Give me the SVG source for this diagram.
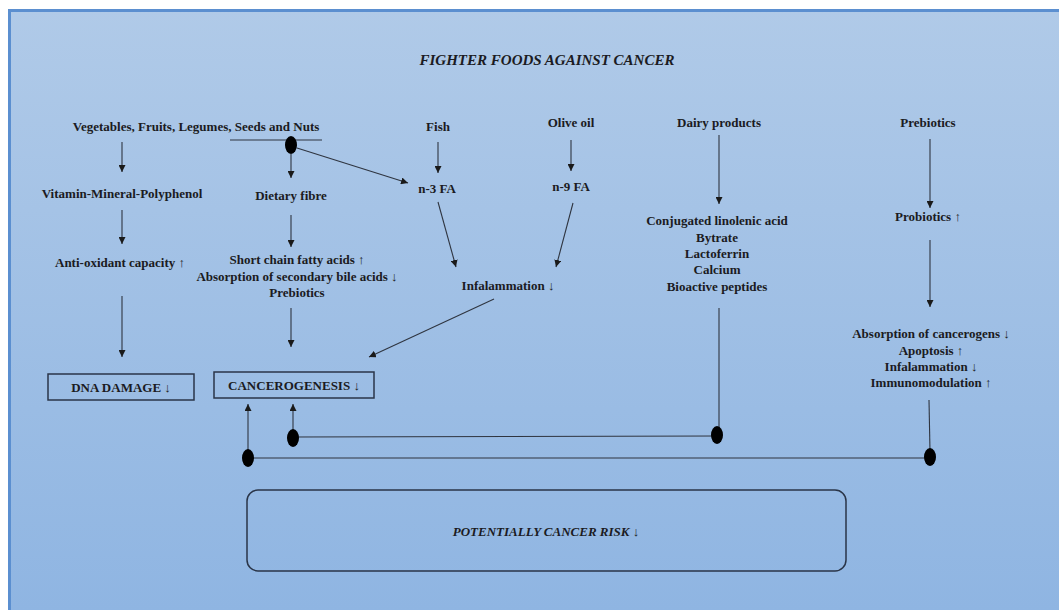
<svg xmlns="http://www.w3.org/2000/svg" width="1059" height="610" viewBox="0 0 1059 610">
<defs>
<linearGradient id="bg" x1="0" y1="0" x2="0" y2="1">
<stop offset="0" stop-color="#b0cae8"/>
<stop offset="1" stop-color="#8fb5e2"/>
</linearGradient>
<marker id="ah" viewBox="0 0 8 8" refX="8" refY="4" markerWidth="7" markerHeight="7" markerUnits="userSpaceOnUse" orient="auto">
<path d="M0,0 L8,4 L0,8 z" fill="#1a1a1a"/>
</marker>
<style>
.t{font-family:"Liberation Serif","Times New Roman",serif;font-weight:bold;font-size:13px;fill:#1b1b22;text-anchor:middle}
.ti{font-family:"Liberation Serif","Times New Roman",serif;font-weight:bold;font-style:italic;font-size:15px;fill:#1b1b22;text-anchor:middle}
.c{stroke:#2f3540;stroke-width:1.1;fill:none}
.a{stroke:#2f3540;stroke-width:1.1;fill:none;marker-end:url(#ah)}
.box{fill:none;stroke:#2a3548;stroke-width:1.5}
.dot{fill:#000}
</style>
</defs>
<rect x="0" y="0" width="1059" height="610" fill="#ffffff"/>
<rect x="8" y="9" width="1051" height="601" fill="url(#bg)"/>
<path d="M9.5,610 V10.5 H1059" fill="none" stroke="#5b8fd0" stroke-width="3"/>

<text class="ti" x="547" y="65">FIGHTER FOODS AGAINST CANCER</text>

<g id="connectors">
<line class="c" x1="230" y1="140" x2="322" y2="140"/>
<line class="a" x1="122" y1="142" x2="122" y2="172"/>
<line class="a" x1="122" y1="210" x2="122" y2="244"/>
<line class="a" x1="122" y1="296" x2="122" y2="357"/>
<line class="a" x1="291" y1="154" x2="291" y2="178"/>
<line class="a" x1="297" y1="148" x2="408" y2="183"/>
<line class="a" x1="291" y1="215" x2="291" y2="247"/>
<line class="a" x1="291" y1="308" x2="291" y2="347"/>
<line class="a" x1="438" y1="142" x2="438" y2="173"/>
<line class="a" x1="438" y1="202" x2="456" y2="267"/>
<line class="a" x1="571" y1="140" x2="571" y2="171"/>
<line class="a" x1="573" y1="203" x2="556" y2="267"/>
<line class="a" x1="494" y1="299" x2="369" y2="357"/>
<line class="a" x1="719" y1="135" x2="719" y2="204"/>
<line class="a" x1="930" y1="139" x2="930" y2="208"/>
<line class="a" x1="930" y1="240" x2="930" y2="307"/>
<polyline class="c" points="719,308 719,430"/>
<polyline class="c" points="717,436 293,437"/>
<line class="a" x1="293" y1="430" x2="293" y2="404"/>
<polyline class="c" points="929,400 930,452"/>
<polyline class="c" points="930,458 248,458"/>
<line class="a" x1="248" y1="450" x2="248" y2="404"/>
<ellipse class="dot" cx="291" cy="145" rx="6" ry="9"/>
<ellipse class="dot" cx="717" cy="435" rx="6" ry="9"/>
<ellipse class="dot" cx="293" cy="438" rx="6" ry="9"/>
<ellipse class="dot" cx="930" cy="457" rx="6" ry="9"/>
<ellipse class="dot" cx="248" cy="458" rx="6" ry="9"/>
</g>

<g id="veg"><text class="t" x="196" y="131">Vegetables, Fruits, Legumes, Seeds and Nuts</text></g>
<g id="vit"><text class="t" x="122" y="198">Vitamin-Mineral-Polyphenol</text></g>
<g id="antiox"><text class="t" x="120" y="267">Anti-oxidant capacity ↑</text></g>
<g id="dna"><rect class="box" x="48" y="374" width="146" height="26"/><text class="t" x="121" y="392">DNA DAMAGE ↓</text></g>
<g id="fibre"><text class="t" x="291" y="200">Dietary fibre</text></g>
<g id="scfa">
<text class="t" x="297" y="264">Short chain fatty acids ↑</text>
<text class="t" x="297" y="281">Absorption of secondary bile acids ↓</text>
<text class="t" x="297" y="297">Prebiotics</text>
</g>
<g id="cancero"><rect class="box" x="214" y="372" width="160" height="26"/><text class="t" x="294" y="390">CANCEROGENESIS ↓</text></g>
<g id="fish"><text class="t" x="438" y="131">Fish</text></g>
<g id="n3"><text class="t" x="437" y="193">n-3 FA</text></g>
<g id="olive"><text class="t" x="571" y="127">Olive oil</text></g>
<g id="n9"><text class="t" x="571" y="191">n-9 FA</text></g>
<g id="infl"><text class="t" x="508" y="290">Infalammation ↓</text></g>
<g id="dairy"><text class="t" x="719" y="127">Dairy products</text></g>
<g id="dairyout">
<text class="t" x="717" y="225">Conjugated  linolenic acid</text>
<text class="t" x="717" y="242">Bytrate</text>
<text class="t" x="717" y="258">Lactoferrin</text>
<text class="t" x="717" y="274">Calcium</text>
<text class="t" x="717" y="291">Bioactive peptides</text>
</g>
<g id="prebio"><text class="t" x="928" y="127">Prebiotics</text></g>
<g id="probio"><text class="t" x="928" y="221">Probiotics ↑</text></g>
<g id="probioout">
<text class="t" x="931" y="338">Absorption of cancerogens ↓</text>
<text class="t" x="931" y="355">Apoptosis ↑</text>
<text class="t" x="931" y="371">Infalammation ↓</text>
<text class="t" x="931" y="387">Immunomodulation ↑</text>
</g>
<g id="risk"><rect class="box" x="247" y="490" width="599" height="81" rx="11"/><text class="ti" x="546" y="536" style="font-size:13px">POTENTIALLY CANCER RISK ↓</text></g>
</svg>
